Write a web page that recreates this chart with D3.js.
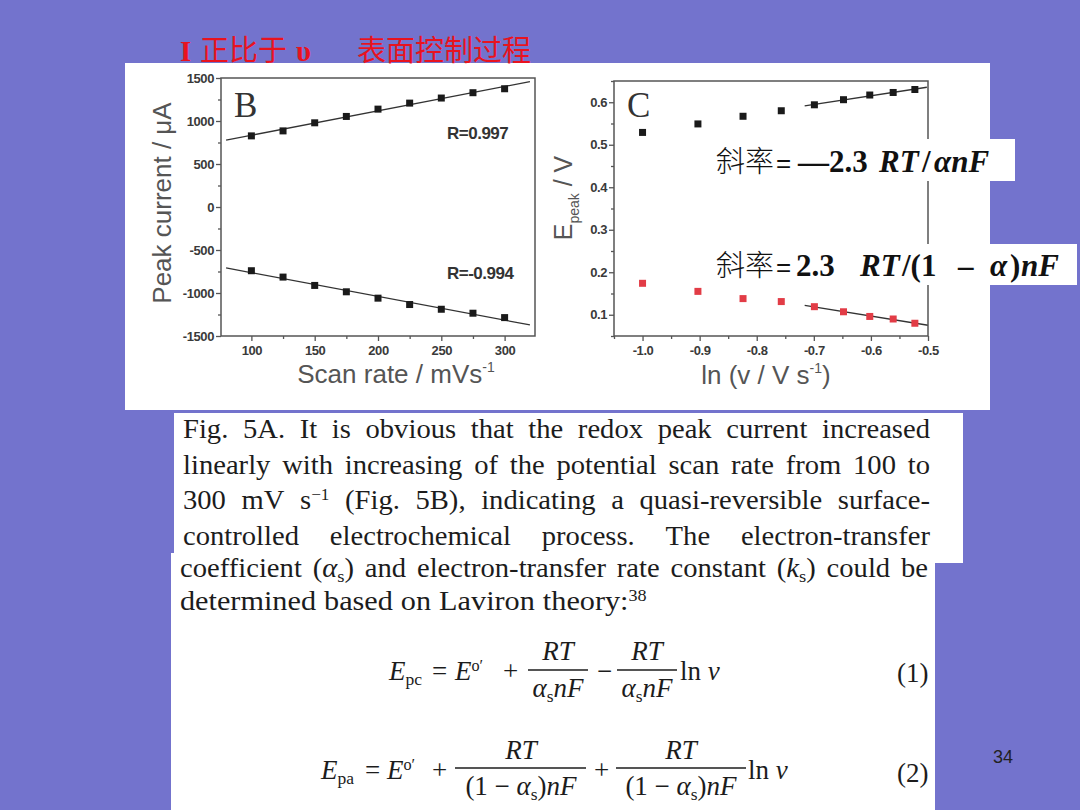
<!DOCTYPE html>
<html>
<head>
<meta charset="utf-8">
<script src="https://cdn.jsdelivr.net/npm/d3@7"></script>
<style>
  body { margin: 0; background: #7373cd; }
  svg { display: block; }
</style>
</head>
<body>
<script>
// Panel B: peak current vs scan rate
var scanRate = [100, 125, 150, 175, 200, 225, 250, 275, 300];
var anodicPeak = [827, 885, 979, 1053, 1138, 1208, 1267, 1329, 1375];
var cathodicPeak = [-741, -815, -912, -986, -1060, -1134, -1189, -1235, -1286];
var rLabels = ["R=0.997", "R=-0.994"];
var bYTicks = [-1500, -1000, -500, 0, 500, 1000, 1500];
var bYMinor = [-1250, -750, -250, 250, 750, 1250];
var bXTicks = [100, 150, 200, 250, 300];
var bXMinor = [125, 175, 225, 275];

// Panel C: peak potential vs ln(v)
var lnRate = [-1.0, -0.903, -0.824, -0.757, -0.699, -0.648, -0.602, -0.561, -0.523];
var ePeakAnodic = [0.529, 0.549, 0.567, 0.580, 0.594, 0.606, 0.617, 0.623, 0.630];
var ePeakCathodic = [0.174, 0.155, 0.138, 0.131, 0.119, 0.107, 0.096, 0.090, 0.080];
var fitFrom = 4; // linear region starts at the 5th point
var cYTicks = [0.1, 0.2, 0.3, 0.4, 0.5, 0.6];
var cYMinor = [0.05, 0.15, 0.25, 0.35, 0.45, 0.55, 0.65];
var cXTicks = [-1.0, -0.9, -0.8, -0.7, -0.6, -0.5];
var cXMinor = [-1.05, -0.95, -0.85, -0.75, -0.65, -0.55];

// paragraph lines ({i:..} italic, {sub:..} subscript, {sup:..} superscript)
var paraLines = [
  "Fig. 5A. It is obvious that the redox peak current increased",
  "linearly with increasing of the potential scan rate from 100 to",
  "300 mV s{sup:−1} (Fig. 5B), indicating a quasi-reversible surface-",
  "controlled electrochemical process. The electron-transfer",
  "coefficient ({i:α}{sub:s}) and electron-transfer rate constant ({i:k}{sub:s}) could be",
  "determined based on Laviron theory:{sup:38}"
];

var svg = d3.select("body").append("svg")
  .attr("width", 1080)
  .attr("height", 810);

svg.append("rect").attr("width", 1080).attr("height", 810).attr("fill", "#7373cd");

// white panels
svg.append("rect").attr("x", 125).attr("y", 63).attr("width", 865).attr("height", 347).attr("fill", "#fff");
svg.append("rect").attr("x", 174).attr("y", 413).attr("width", 789).attr("height", 150).attr("fill", "#fff");
svg.append("rect").attr("x", 171).attr("y", 553).attr("width", 764).attr("height", 257).attr("fill", "#fff");

// red title
var title = svg.append("text").attr("y", 61).attr("fill", "#e8131f")
  .style("font-family", "'Noto Sans CJK SC', sans-serif").style("font-size", "29px");
title.append("tspan").attr("x", 180).style("font-weight", "bold").style("font-family", "'Liberation Serif', serif").text("I");
title.append("tspan").attr("x", 200).text("正比于");
title.append("tspan").attr("x", 296).style("font-weight", "bold").style("font-family", "'Liberation Serif', serif").text("υ");
title.append("tspan").attr("x", 357).text("表面控制过程");

var axisColor = "#555";

function styleAxis(g) {
  g.select(".domain").remove();
  g.selectAll("line").attr("stroke", axisColor).attr("stroke-width", 1.3);
  g.selectAll("text")
    .attr("fill", "#3a3a3a")
    .style("font-family", "'Liberation Sans', Arial, sans-serif")
    .style("font-weight", "bold")
    .style("font-size", "13px")
    .style("letter-spacing", "-0.4px");
}

function hyphenFormat(spec) {
  var f = d3.format(spec);
  return function (d) { return f(d).replace("−", "-"); };
}

function linFit(xs, ys) {
  var mx = d3.mean(xs), my = d3.mean(ys);
  var sxy = d3.sum(xs, function (x, i) { return (x - mx) * (ys[i] - my); });
  var sxx = d3.sum(xs, function (x) { return (x - mx) * (x - mx); });
  var b = sxy / sxx;
  return function (x) { return my + b * (x - mx); };
}

function drawFrame(x, y) {
  svg.append("rect")
    .attr("x", x.range()[0]).attr("y", y.range()[1])
    .attr("width", x.range()[1] - x.range()[0])
    .attr("height", y.range()[0] - y.range()[1])
    .attr("fill", "none").attr("stroke", axisColor).attr("stroke-width", 1.5);
}

function drawAxes(x, y, xt, xm, yt, ym, xFmt, yFmt) {
  var bottom = y.range()[0], left = x.range()[0];
  svg.append("g").attr("transform", "translate(0," + bottom + ")")
    .call(d3.axisBottom(x).tickValues(xt).tickSize(5).tickPadding(5).tickFormat(xFmt)).call(styleAxis);
  svg.append("g").attr("transform", "translate(0," + bottom + ")")
    .call(d3.axisBottom(x).tickValues(xm).tickSize(3).tickFormat("")).call(styleAxis);
  svg.append("g").attr("transform", "translate(" + left + ",0)")
    .call(d3.axisLeft(y).tickValues(yt).tickSize(5).tickPadding(2).tickFormat(yFmt)).call(styleAxis);
  svg.append("g").attr("transform", "translate(" + left + ",0)")
    .call(d3.axisLeft(y).tickValues(ym).tickSize(3).tickFormat("")).call(styleAxis);
}

function drawSquares(x, y, xs, ys, color) {
  svg.append("g").selectAll("rect")
    .data(xs)
    .enter()
    .append("rect")
    .attr("x", function (d) { return x(d) - 3.5; })
    .attr("y", function (d, i) { return y(ys[i]) - 3.5; })
    .attr("width", 7)
    .attr("height", 7)
    .attr("fill", color);
}

function drawFit(x, y, xs, ys, x0, x1) {
  var f = linFit(xs, ys);
  svg.append("line")
    .attr("x1", x(x0)).attr("y1", y(f(x0)))
    .attr("x2", x(x1)).attr("y2", y(f(x1)))
    .attr("stroke", "#333").attr("stroke-width", 1.3);
}

// ---------- panel B ----------
var xB = d3.scaleLinear().domain([76, 324]).range([221, 535]);
var yB = d3.scaleLinear().domain([-1500, 1500]).range([336, 78]);

drawAxes(xB, yB, bXTicks, bXMinor, bYTicks, bYMinor, hyphenFormat("d"), hyphenFormat("d"));
drawFit(xB, yB, scanRate, anodicPeak, 80, 320);
drawFit(xB, yB, scanRate, cathodicPeak, 80, 320);
drawSquares(xB, yB, scanRate, anodicPeak, "#1a1a1a");
drawSquares(xB, yB, scanRate, cathodicPeak, "#1a1a1a");
drawFrame(xB, yB);

svg.append("text").attr("x", 234).attr("y", 117)
  .style("font-family", "'Liberation Serif', serif").style("font-size", "35px").attr("fill", "#333").text("B");

svg.selectAll(".rlab").data(rLabels).enter().append("text")
  .attr("class", "rlab")
  .attr("x", 447)
  .attr("y", function (d, i) { return i === 0 ? 139 : 279; })
  .attr("fill", "#333")
  .style("font-family", "'Liberation Sans', Arial, sans-serif")
  .style("font-weight", "bold").style("font-size", "17px").style("letter-spacing", "-0.5px")
  .text(function (d) { return d; });

var sansTitle = "'Liberation Sans', Arial, sans-serif";
svg.append("text")
  .attr("transform", "translate(171,203) rotate(-90)")
  .attr("text-anchor", "middle").attr("fill", "#555")
  .style("font-family", sansTitle).style("font-size", "26px")
  .text("Peak current / μA");

var xtB = svg.append("text").attr("x", 396).attr("y", 383).attr("text-anchor", "middle").attr("fill", "#555")
  .style("font-family", sansTitle).style("font-size", "26px");
xtB.append("tspan").text("Scan rate / mVs");
xtB.append("tspan").attr("dy", -11).style("font-size", "14px").text("-1");

// ---------- panel C ----------
var xC = d3.scaleLinear().domain([-1.05, -0.5]).range([614, 928]);
var yC = d3.scaleLinear().domain([0.05, 0.65]).range([336, 81]);

drawAxes(xC, yC, cXTicks, cXMinor, cYTicks, cYMinor, hyphenFormat(".1f"), hyphenFormat(".1f"));
drawFit(xC, yC, lnRate.slice(fitFrom), ePeakAnodic.slice(fitFrom), -0.716, -0.502);
drawFit(xC, yC, lnRate.slice(fitFrom), ePeakCathodic.slice(fitFrom), -0.716, -0.5);
drawSquares(xC, yC, lnRate, ePeakAnodic, "#1a1a1a");
drawSquares(xC, yC, lnRate, ePeakCathodic, "#e23c46");
drawFrame(xC, yC);

svg.append("text").attr("x", 627).attr("y", 117)
  .style("font-family", "'Liberation Serif', serif").style("font-size", "35px").attr("fill", "#333").text("C");

var ytC = svg.append("text").attr("transform", "translate(572,198) rotate(-90)")
  .attr("text-anchor", "middle").attr("fill", "#555")
  .style("font-family", sansTitle).style("font-size", "25px");
ytC.append("tspan").text("E");
ytC.append("tspan").attr("dy", 7).style("font-size", "14px").text("peak");
ytC.append("tspan").attr("dy", -7).text(" / V");

var xtC = svg.append("text").attr("x", 766).attr("y", 384).attr("text-anchor", "middle").attr("fill", "#555")
  .style("font-family", sansTitle).style("font-size", "26px");
xtC.append("tspan").text("ln (v / V s");
xtC.append("tspan").attr("dy", -11).style("font-size", "14px").text("-1");
xtC.append("tspan").attr("dy", 11).text(")");

// slope annotation boxes
svg.append("rect").attr("x", 712).attr("y", 139).attr("width", 303).attr("height", 42).attr("fill", "#fff");
svg.append("rect").attr("x", 712).attr("y", 244).attr("width", 365).attr("height", 41).attr("fill", "#fff");

function slopeLabel(yBase, parts) {
  var t = svg.append("text").attr("y", yBase).attr("fill", "#111");
  t.append("tspan").attr("x", 716)
    .style("font-family", "'Noto Sans CJK SC', sans-serif").style("font-size", "29px").style("font-weight", "300")
    .text("斜率");
  t.append("tspan").attr("x", 776)
    .style("font-family", "'Liberation Sans', sans-serif").style("font-size", "26px")
    .text("=");
  parts.forEach(function (p) {
    t.append("tspan")
      .attr("x", p.x)
      .style("font-family", "'Liberation Serif', serif").style("font-size", "31px").style("font-weight", "bold")
      .style("font-style", p.it ? "italic" : "normal")
      .text(p.s);
  });
}
slopeLabel(172, [
  { x: 798, s: "—2.3" },
  { x: 879, s: "RT", it: true },
  { x: 922, s: "/" },
  { x: 934, s: "αnF", it: true }
]);
slopeLabel(276, [
  { x: 796, s: "2.3" },
  { x: 860, s: "RT", it: true },
  { x: 902, s: "/(1" },
  { x: 958, s: "–" },
  { x: 990, s: "α", it: true },
  { x: 1010, s: ")" },
  { x: 1021, s: "nF", it: true }
]);

// ---------- paragraph ----------
function addRich(t, str, size) {
  var re = /\{(i|sub|sup):([^}]*)\}/g, last = 0, m, shift = 0;
  function plain(s) {
    if (!s) return;
    var sp = t.append("tspan").text(s);
    if (shift) { sp.attr("dy", shift); shift = 0; }
  }
  while ((m = re.exec(str))) {
    plain(str.slice(last, m.index));
    var sp = t.append("tspan").text(m[2]);
    var want = 0;
    if (m[1] === "i") sp.style("font-style", "italic");
    if (m[1] === "sub") { want = -5; sp.style("font-size", (size * 0.65) + "px"); }
    if (m[1] === "sup") { want = 9; sp.style("font-size", (size * 0.6) + "px"); }
    if (want !== shift) { sp.attr("dy", shift - want); shift = want; }
    last = re.lastIndex;
  }
  plain(str.slice(last));
}

var paraSize = 27;
var lineStretch = [1.06, 1.06, 1.06, 1.06, 1.06, 1.12];
var lineY = [438, 474, 509, 545, 577, 610];
var lineX0 = [183, 183, 183, 183, 180, 180];
var lineX1 = [930, 930, 930, 930, 928, null];

paraLines.forEach(function (line, li) {
  var words = line.split(" ");
  var g = svg.append("g");
  var nodes = words.map(function (w) {
    var t = g.append("text").attr("y", lineY[li]).attr("fill", "#1c1c1c")
      .style("font-family", "'Liberation Serif', serif").style("font-size", paraSize + "px");
    addRich(t, w, paraSize);
    return t;
  });
  var widths = nodes.map(function (t) {
    var w = t.node().getComputedTextLength() * lineStretch[li];
    t.attr("textLength", w).attr("lengthAdjust", "spacingAndGlyphs");
    return w;
  });
  var gap = 8;
  if (lineX1[li] !== null && words.length > 1) {
    gap = Math.max(3, (lineX1[li] - lineX0[li] - d3.sum(widths)) / (words.length - 1));
  }
  var x = lineX0[li];
  nodes.forEach(function (t, i) {
    t.attr("x", x);
    x += widths[i] + gap;
  });
});

// ---------- equations ----------
var eqFont = "'Liberation Serif', serif";
function eqText(x, y, parts, anchor) {
  var t = svg.append("text").attr("x", x).attr("y", y).attr("fill", "#1c1c1c")
    .attr("text-anchor", anchor || "start")
    .style("font-family", eqFont).style("font-size", "27px");
  addRich(t, parts, 27);
  return t;
}
function fracBar(x0, x1, y) {
  svg.append("line").attr("x1", x0).attr("x2", x1).attr("y1", y).attr("y2", y)
    .attr("stroke", "#1c1c1c").attr("stroke-width", 1.4);
}

// (1)
eqText(389, 680, "{i:E}{sub:pc}");
eqText(432, 680, "=");
eqText(455, 680, "{i:E}{sup:o′}");
eqText(503, 680, "+");
eqText(558, 660, "{i:RT}", "middle");
fracBar(528, 588, 670);
eqText(558, 697, "{i:α}{sub:s}{i:nF}", "middle");
eqText(597, 680, "−");
eqText(647, 660, "{i:RT}", "middle");
fracBar(617, 677, 670);
eqText(647, 697, "{i:α}{sub:s}{i:nF}", "middle");
eqText(680, 680, "ln {i:v}");
eqText(897, 682, "(1)");

// (2)
eqText(321, 779, "{i:E}{sub:pa}");
eqText(365, 779, "=");
eqText(387, 779, "{i:E}{sup:o′}");
eqText(432, 779, "+");
eqText(521, 759, "{i:RT}", "middle");
fracBar(455, 586, 768);
eqText(521, 795, "(1 − {i:α}{sub:s}){i:nF}", "middle");
eqText(594, 779, "+");
eqText(681, 759, "{i:RT}", "middle");
fracBar(616, 746, 768);
eqText(681, 795, "(1 − {i:α}{sub:s}){i:nF}", "middle");
eqText(748, 779, "ln {i:v}");
eqText(897, 782, "(2)");

// page number
svg.append("text").attr("x", 993).attr("y", 763).attr("fill", "#222")
  .style("font-family", "'Liberation Sans', Arial, sans-serif").style("font-size", "18px").text("34");
</script>
</body>
</html>
